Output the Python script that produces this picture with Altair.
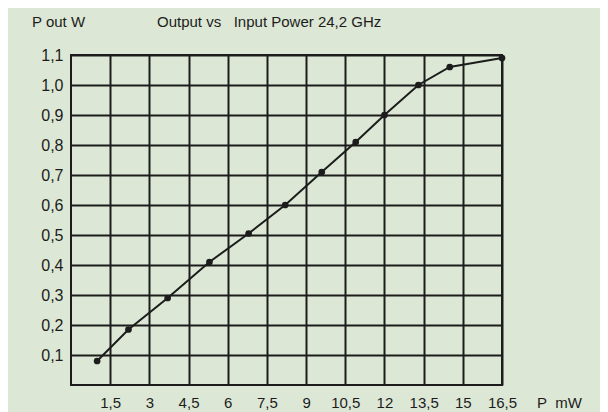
import altair as alt
import pandas as pd

# Data
p_in_mw = [1.0, 2.2, 3.7, 5.3, 6.8, 8.2, 9.6, 10.9, 12.0, 13.3, 14.5, 16.5]
p_out_w = [0.08, 0.185, 0.29, 0.41, 0.505, 0.60, 0.71, 0.81, 0.90, 1.00, 1.06, 1.09]

x_ticks = [1.5, 3, 4.5, 6, 7.5, 9, 10.5, 12, 13.5, 15, 16.5]
y_ticks = [0.1, 0.2, 0.3, 0.4, 0.5, 0.6, 0.7, 0.8, 0.9, 1.0, 1.1]

title_left = "P out W"
title_main = "Output vs\u00a0\u00a0 Input Power 24,2 GHz"
x_unit = "P\u00a0\u00a0mW"

FONT = "Liberation Sans"
BG = "#dce8d5"
INK = "#1c1c1c"

df = pd.DataFrame({"x": p_in_mw, "y": p_out_w})

W, H = 431, 330

x_scale = alt.Scale(domain=[0, 16.5], nice=False, zero=False)
y_scale = alt.Scale(domain=[0, 1.1], nice=False, zero=False)

x_axis = alt.Axis(values=x_ticks, tickCount=30, title=None, grid=True, gridColor=INK,
                  gridWidth=2, gridOpacity=1, ticks=False, domain=False, labelFont=FONT,
                  labelFontSize=15, labelColor=INK, labelPadding=10,
                  labelOverlap=False, labelFlush=False,
                  labelExpr="replace(format(datum.value, '.1~f'), '.', ',')")
y_axis = alt.Axis(values=y_ticks, tickCount=30, title=None, grid=True, gridColor=INK,
                  gridWidth=2, gridOpacity=1, ticks=False, domain=False, labelFont=FONT,
                  labelFontSize=16, labelColor=INK, labelPadding=8,
                  labelOverlap=False, labelFlush=False,
                  labelExpr="replace(format(datum.value, '.1f'), '.', ',')")

base = alt.Chart(df)

line = base.mark_line(color=INK, strokeWidth=2).encode(
    x=alt.X("x:Q", scale=x_scale, axis=x_axis),
    y=alt.Y("y:Q", scale=y_scale, axis=y_axis),
)
pts = base.mark_circle(color=INK, size=45, opacity=1).encode(
    x=alt.X("x:Q", scale=x_scale),
    y=alt.Y("y:Q", scale=y_scale),
)

labels = pd.DataFrame({"t": [title_left, title_main, x_unit],
                       "px": [-39, 86, 466],
                       "py": [-33, -33, 18 + H]})

def text_layer(i):
    return alt.Chart(labels.iloc[[i]]).mark_text(
        font=FONT, fontSize=15, color=INK, align="left", baseline="middle"
    ).encode(text="t:N", x=alt.value(float(labels.px[i])), y=alt.value(float(labels.py[i])))

chart = alt.layer(line, pts, text_layer(0), text_layer(1), text_layer(2)).properties(
    width=W, height=H,
    background=BG,
    padding={"left": 63, "top": 47, "right": 98, "bottom": 28},
    autosize=alt.AutoSizeParams(type="none"),
).configure_view(stroke=INK, strokeWidth=2, fill=BG)

chart.save("out.html", embed_options={"renderer": "svg", "actions": False})
